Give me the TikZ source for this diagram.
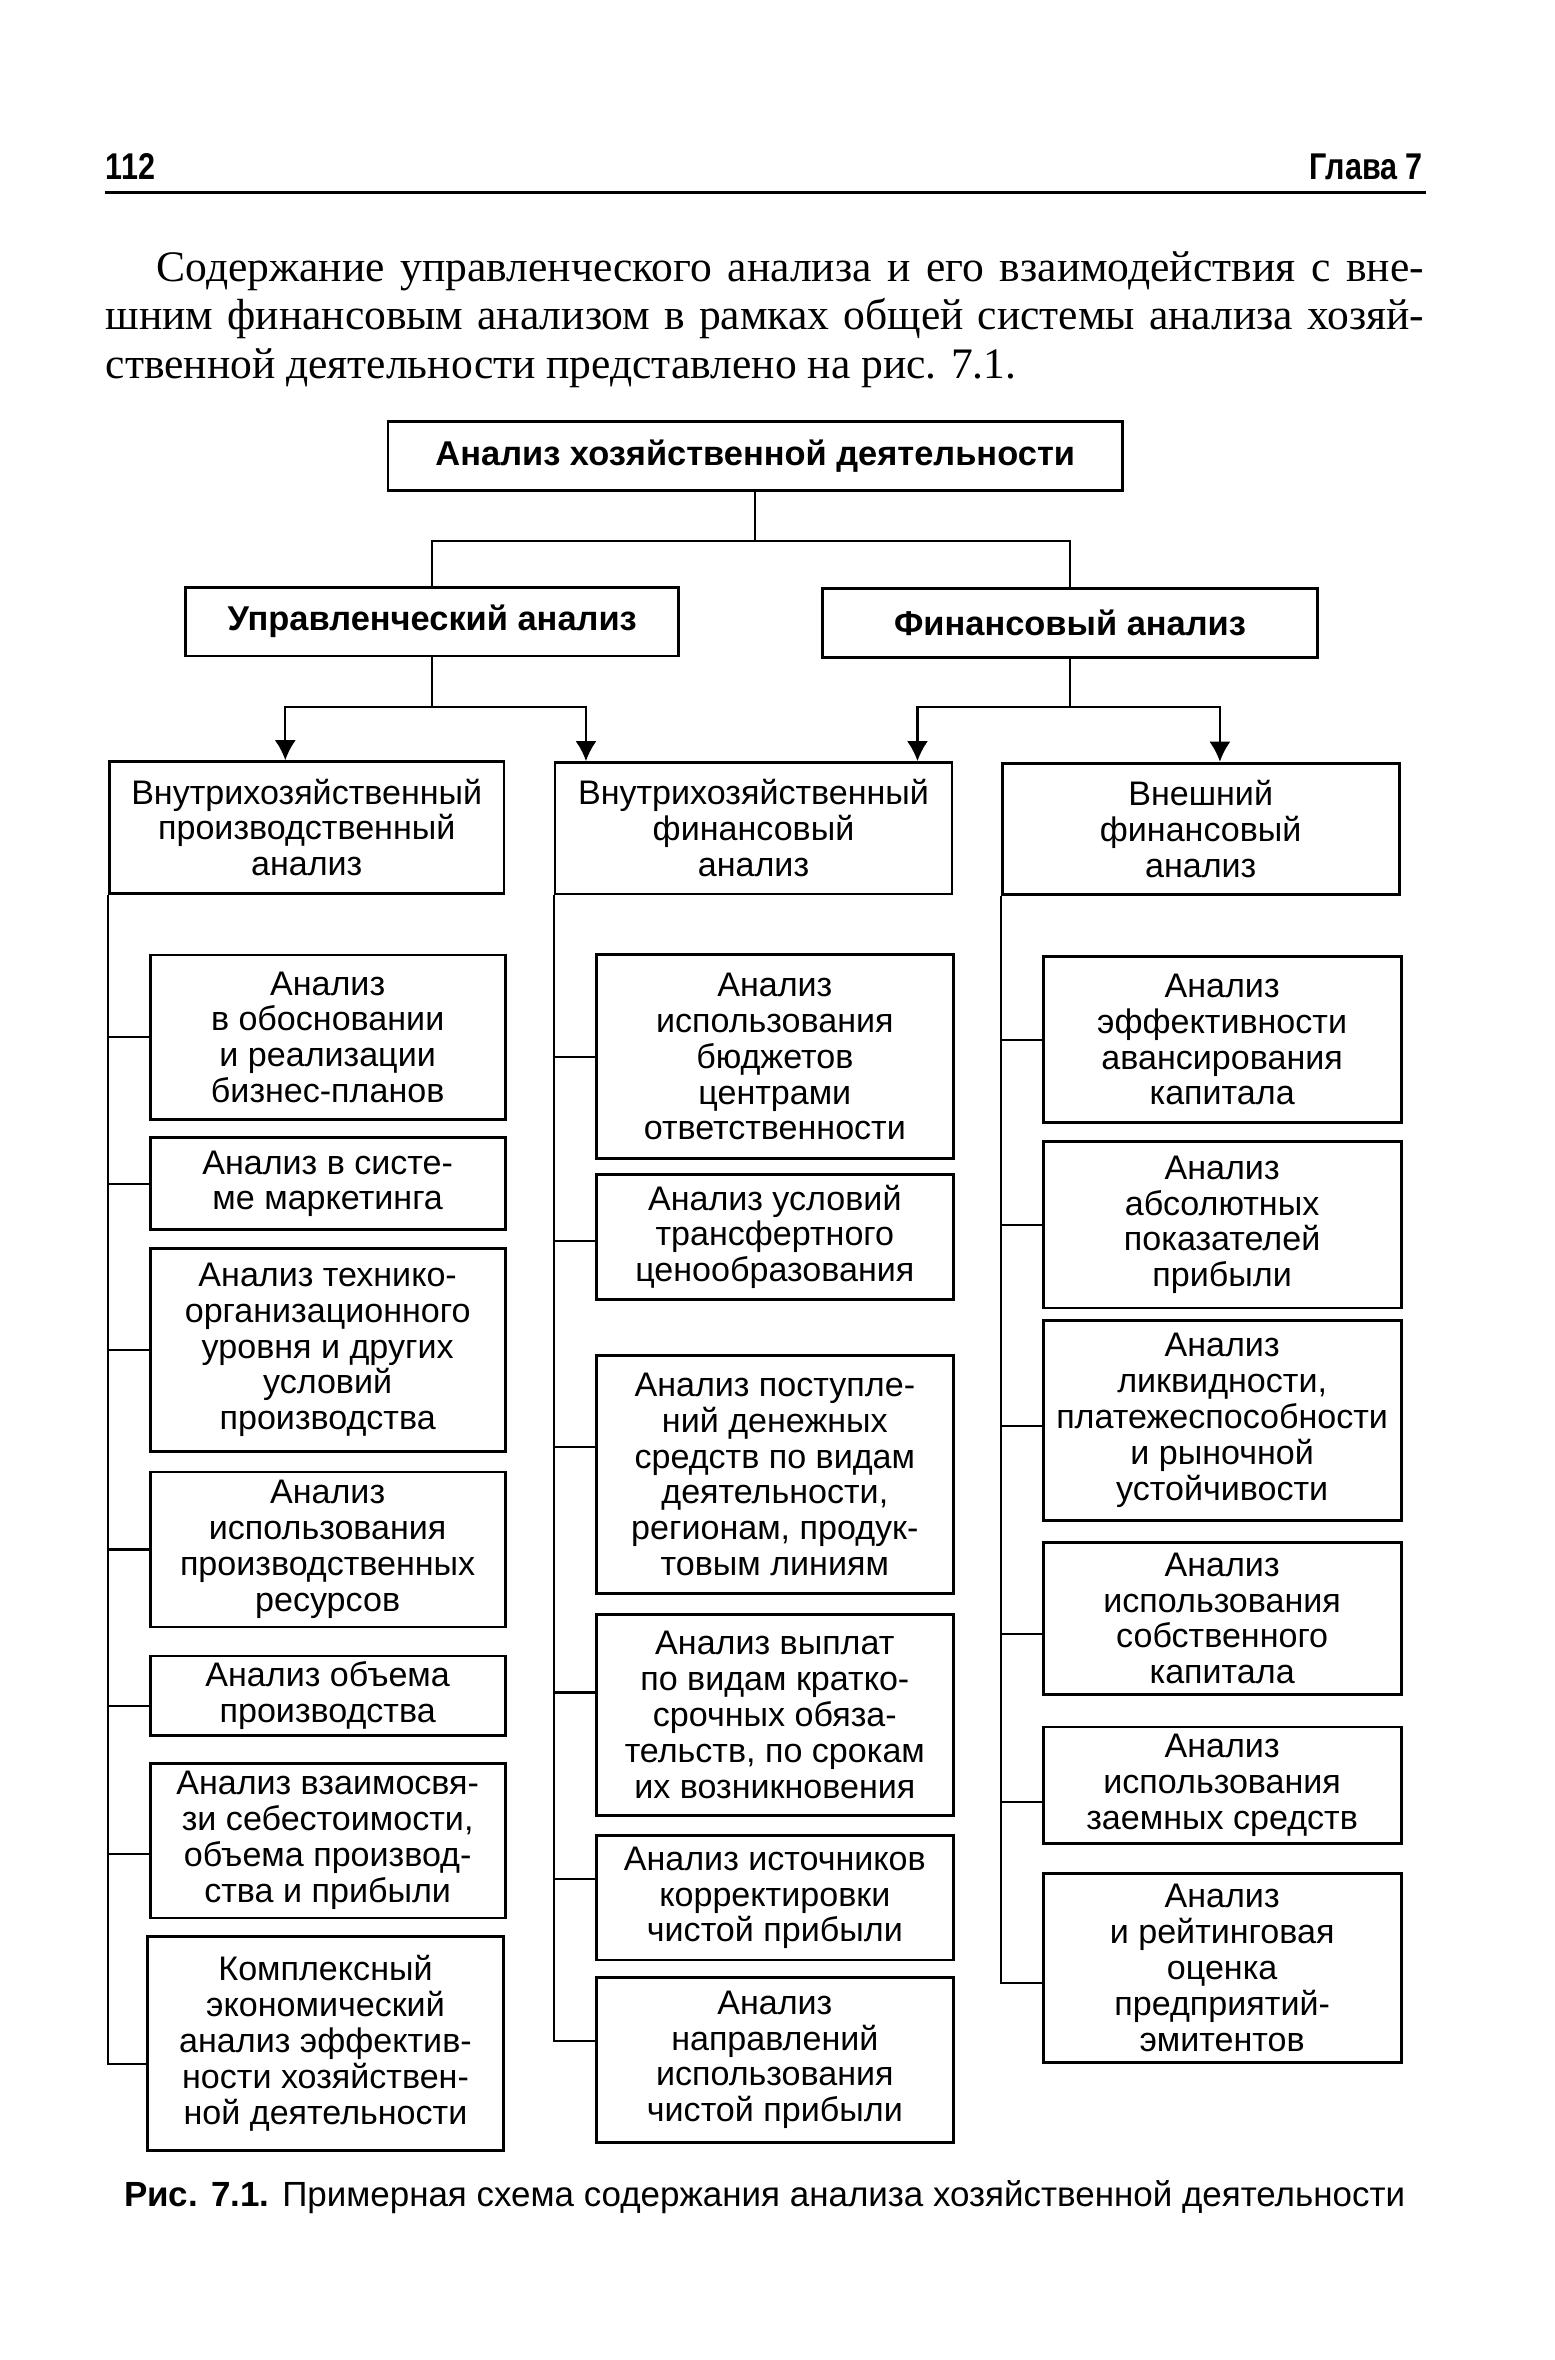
\documentclass[tikz,border=0pt]{standalone}
\usepackage{fontspec}
\setmainfont{Liberation Serif}
\newfontfamily\boxfont{Liberation Sans}
\newfontfamily\headfont[FakeStretch=0.82]{Liberation Sans}
\usetikzlibrary{calc,arrows.meta}

\begin{document}
\begin{tikzpicture}[x=0.015054cm, y=-0.015054cm,
    box/.style={draw, line width=0.8pt, inner sep=0pt, align=center,
                font=\boxfont\fontsize{9.7}{10.2}\selectfont},
    cell/.style 2 args={box, minimum width=#1*0.15054mm, minimum height=#2*0.15054mm},
    head/.style 2 args={cell={#1}{#2}, font=\boxfont\bfseries\fontsize{9.8}{11}\selectfont},
    line/.style={anchor=base west, inner sep=0pt, font=\fontsize{12.4}{14}\selectfont},
    link/.style={line width=0.6pt},
    arr/.style={link, -{Latex[length=2mm, width=2.1mm]}}]
    \useasboundingbox (0,0) rectangle (1033,1568);

    \node[anchor=base west, inner sep=0pt, font=\headfont\bfseries\fontsize{10.6}{12}\selectfont]
        (page) at (69.8,119.6) {112};
    \node[anchor=base east, inner sep=0pt, font=\headfont\bfseries\fontsize{10.6}{12}\selectfont]
        (chap) at (945.8,119.6) {Глава 7};
    \draw[line width=1pt] (69.8,128) -- (947.5,128);

    \node[line] (par1) at (103.6,187.1)
        {\makebox[12.68cm][s]{Содержание управленческого анализа и его взаимодействия с вне-}};
    \node[line] (par2) at (69.8,219.2)
        {\makebox[13.19cm][s]{шним финансовым анализом в рамках общей системы анализа хозяй-}};
    \node[line] (par3) at (69.8,251.3) {ственной деятельности представлено на рис. 7.1.};

    \node[head={488.2}{45.9}] (ahd) at (501.8,303.05) {Анализ хозяйственной деятельности};
    \node[head={327.9}{45.6}] (upr) at (287.15,413) {Управленческий анализ};
    \node[head={328.6}{46.1}] (fin) at (710.9,413.85) {Финансовый анализ};

    \node[cell={262.2}{87.4}] (vp) at (203.8,549.7) {Внутрихозяйственный\\производственный\\анализ};
    \node[cell={263.9}{87.4}] (vf) at (500.65,550.3) {Внутрихозяйственный\\финансовый\\анализ};
    \node[cell={263.9}{87.5}] (vn) at (797.75,550.75) {Внешний\\финансовый\\анализ};

    \node[cell={236}{109.4}] (p1) at (217.7,689.2) {Анализ\\в обосновании\\и реализации\\бизнес-планов};
    \node[cell={236}{61}] (p2) at (217.7,786.5) {Анализ в систе-\\ме маркетинга};
    \node[cell={236}{135.2}] (p3) at (217.7,896.9) {Анализ технико-\\организационного\\уровня и других\\условий\\производства};
    \node[cell={236}{103}] (p4) at (217.7,1029.5) {Анализ\\использования\\производственных\\ресурсов};
    \node[cell={236}{52.8}] (p5) at (217.7,1126.6) {Анализ объема\\производства};
    \node[cell={236}{102.9}] (p6) at (217.7,1222.85) {Анализ взаимосвя-\\зи себестоимости,\\объема производ-\\ства и прибыли};
    \node[cell={236.1}{142.4}] (p7) at (216.25,1357.6) {Комплексный\\экономический\\анализ эффектив-\\ности хозяйствен-\\ной деятельности};

    \node[cell={237.6}{135.5}] (f1) at (514.8,702.05) {Анализ\\использования\\бюджетов\\центрами\\ответственности};
    \node[cell={237.6}{83}] (f2) at (514.8,821.7) {Анализ условий\\трансфертного\\ценообразования};
    \node[cell={237.6}{158.6}] (f3) at (514.8,979.6) {Анализ поступле-\\ний денежных\\средств по видам\\деятельности,\\регионам, продук-\\товым линиям};
    \node[cell={237.6}{133.2}] (f4) at (514.8,1139.4) {Анализ выплат\\по видам кратко-\\срочных обяза-\\тельств, по срокам\\их возникновения};
    \node[cell={237.6}{82.6}] (f5) at (514.8,1261) {Анализ источников\\корректировки\\чистой прибыли};
    \node[cell={237.6}{109.8}] (f6) at (514.8,1368.5) {Анализ\\направлений\\использования\\чистой прибыли};

    \node[cell={238}{110.6}] (n1) at (812,690.7) {Анализ\\эффективности\\авансирования\\капитала};
    \node[cell={238}{110.6}] (n2) at (812,813.8) {Анализ\\абсолютных\\показателей\\прибыли};
    \node[cell={238}{132.6}] (n3) at (812,943.7) {Анализ\\ликвидности,\\платежеспособности\\и рыночной\\устойчивости};
    \node[cell={238}{101.1}] (n4) at (812,1075.35) {Анализ\\использования\\собственного\\капитала};
    \node[cell={238}{77.7}] (n5) at (812,1186.25) {Анализ\\использования\\заемных средств};
    \node[cell={238}{126.1}] (n6) at (812,1307.55) {Анализ\\и рейтинговая\\оценка\\предприятий-\\эмитентов};

    \draw[link] (ahd.south) -- ++(0,32.7) -| (upr.north);
    \draw[link] (ahd.south) -- ++(0,32.7) -| (fin.north);
    \draw[arr] (upr.south) -- ++(0,32.9) -| ($(vp.north west)!.446!(vp.north east)$);
    \draw[arr] (upr.south) -- ++(0,32.9) -| ($(vf.north west)!.081!(vf.north east)$);
    \draw[arr] (fin.south) -- ++(0,31.8) -| ($(vf.north west)!.910!(vf.north east)$);
    \draw[arr] (fin.south) -- ++(0,31.8) -| ($(vn.north west)!.548!(vn.north east)$);

    \foreach \kid/\dy in {p1/0pt, p2/0pt, p3/0pt, p4/0pt, p5/-3pt, p6/-3.8pt, p7/-6pt}
        \draw[link] (vp.south west) |- ([yshift=\dy]\kid.west);
    \foreach \kid/\dy in {f1/0pt, f2/-1.3pt, f3/7.7pt, f4/6.4pt, f5/5.5pt, f6/5.3pt}
        \draw[link] (vf.south west) |- ([yshift=\dy]\kid.west);
    \foreach \kid/\dy in {n1/0pt, n2/0pt, n3/-1.7pt, n4/-4.3pt, n5/-4.7pt, n6/-4.3pt}
        \draw[link] (vn.south west) |- ([yshift=\dy]\kid.west);

    \node[anchor=base west, inner sep=0pt, font=\boxfont\fontsize{9.95}{12}\selectfont] (cap) at (82,1466)
        {{\bfseries Рис. 7.1.} Примерная схема содержания анализа хозяйственной деятельности};
\end{tikzpicture}
\end{document}
